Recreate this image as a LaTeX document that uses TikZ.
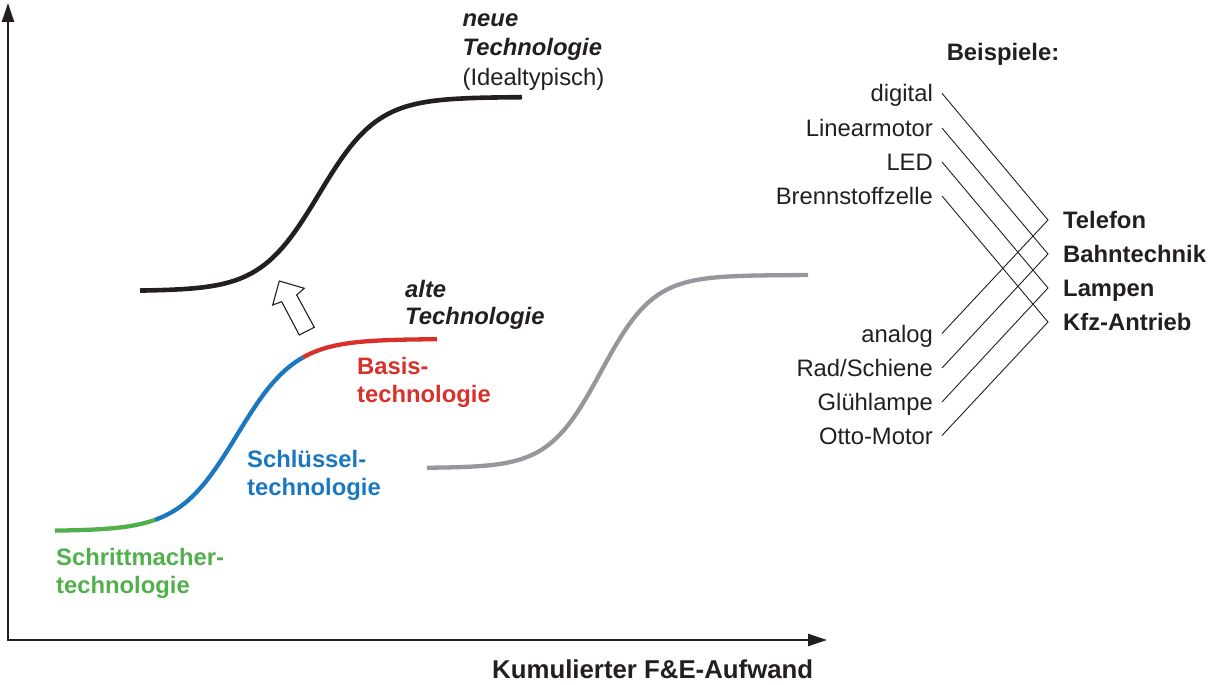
\documentclass[tikz,border=0pt]{standalone}
\usepackage{fontspec}
\setmainfont{Liberation Sans}
\usetikzlibrary{arrows.meta}

\definecolor{ink}{HTML}{231F20}
\definecolor{curvegray}{HTML}{96979B}
\definecolor{pacegreen}{HTML}{52B04C}
\definecolor{keyblue}{HTML}{1B78BE}
\definecolor{basered}{HTML}{D8312B}

\begin{document}
\begin{tikzpicture}[x=1bp, y=-1bp,
  txt/.style={inner sep=0pt, anchor=base west, text=ink,
              font=\fontsize{23.8bp}{27.5bp}\selectfont},
  boldtxt/.style={txt, font=\fontsize{23.8bp}{27.5bp}\selectfont\bfseries},
  bitxt/.style={txt, font=\fontsize{23.8bp}{27.5bp}\selectfont\bfseries\itshape},
  example/.style={inner sep=0pt, text=ink, text height=17bp, text depth=0pt,
                  font=\fontsize{23.8bp}{27.5bp}\selectfont},
  leftex/.style={example, anchor=east},
  rightex/.style={example, anchor=west, font=\fontsize{23.8bp}{27.5bp}\selectfont\bfseries},
  axis/.style={line width=2.4bp, ink, {Triangle[length=19bp,width=12bp]}-{Triangle[length=19bp,width=12bp]}},
  scurve/.style={line width=4.3bp, line cap=butt},
  link/.style={line width=0.9bp, ink, line join=miter},
]
\useasboundingbox (0,0) rectangle (1220,685);

% axes
\coordinate (ytip) at (8,3);
\coordinate (origin) at (8,640);
\coordinate (xtip) at (827,640);
\draw[axis] (ytip) -- (origin) -- (xtip);
\node[txt, font=\fontsize{25.8bp}{30bp}\selectfont\bfseries] (xlabel) at (492,678.5) {Kumulierter F\&E-Aufwand};

% new technology curve (black)
\draw[scurve, ink, line width=4.6bp] plot[domain=140:522, samples=90]
  (\x, {291 - 194/(1+exp(-0.034*(\x-319)))});

% old technology curve, split into three phases
\draw[scurve, pacegreen] plot[domain=55:155, samples=30]
  (\x, {531 - 192/(1+exp(-0.034*(\x-237)))});
\draw[scurve, keyblue] plot[domain=155:303, samples=60]
  (\x, {531 - 192/(1+exp(-0.034*(\x-237)))});
\draw[scurve, basered] plot[domain=303:437, samples=40]
  (\x, {531 - 192/(1+exp(-0.034*(\x-237)))});

% further technology curve (gray)
\draw[scurve, curvegray] plot[domain=427:808, samples=90]
  (\x, {468 - 193/(1+exp(-0.038*(\x-601)))});

% hollow jump arrow
\draw[line width=1.1bp, ink, fill=white, line join=miter]
  (279.3,281) -- (304.3,288.3) -- (296.7,295) -- (314.3,327.3)
  -- (299.3,335) -- (281.7,301.7) -- (272.7,305) -- cycle;

% curve labels
\node[bitxt] (neue1) at (462.5,27) {neue};
\node[bitxt] (neue2) at (462.5,56) {Technologie};
\node[txt]   (neue3) at (462.5,86) {(Idealtypisch)};

\node[bitxt] (alt1) at (405,297) {alte};
\node[bitxt] (alt2) at (405,324.5) {Technologie};

\node[boldtxt, text=basered] (bas1) at (357,374) {Basis-};
\node[boldtxt, text=basered] (bas2) at (357,402) {technologie};

\node[boldtxt, text=keyblue] (key1) at (247,467) {Schlüssel-};
\node[boldtxt, text=keyblue] (key2) at (247,495) {technologie};

\node[boldtxt, text=pacegreen] (pace1) at (56,565) {Schrittmacher-};
\node[boldtxt, text=pacegreen] (pace2) at (56,593.5) {technologie};

% examples
\node[boldtxt, anchor=base] (examples) at (1003,61) {Beispiele:};

\node[leftex] (digital) at (933,93.3) {digital};
\node[leftex] (linear)  at (933,128) {Linearmotor};
\node[leftex] (led)     at (933,162) {LED};
\node[leftex] (fuel)    at (933,196) {Brennstoffzelle};
\node[leftex] (analog)  at (933,333.5) {analog};
\node[leftex] (rail)    at (933,368) {Rad/Schiene};
\node[leftex] (bulb)    at (933,402) {Glühlampe};
\node[leftex] (otto)    at (933,435.5) {Otto-Motor};

\node[rightex] (phone) at (1063,220) {Telefon};
\node[rightex] (train) at (1063,254) {Bahntechnik};
\node[rightex] (lamps) at (1063,288) {Lampen};
\node[rightex] (car)   at (1063,322) {Kfz-Antrieb};

\draw[link] ([xshift=9bp]digital.east) -- ([xshift=-15bp]phone.west) -- ([xshift=9bp]analog.east);
\draw[link] ([xshift=9bp]linear.east)  -- ([xshift=-15bp]train.west) -- ([xshift=9bp]rail.east);
\draw[link] ([xshift=9bp]led.east)     -- ([xshift=-15bp]lamps.west) -- ([xshift=9bp]bulb.east);
\draw[link] ([xshift=9bp]fuel.east)    -- ([xshift=-15bp]car.west)   -- ([xshift=9bp]otto.east);
\end{tikzpicture}
\end{document}
